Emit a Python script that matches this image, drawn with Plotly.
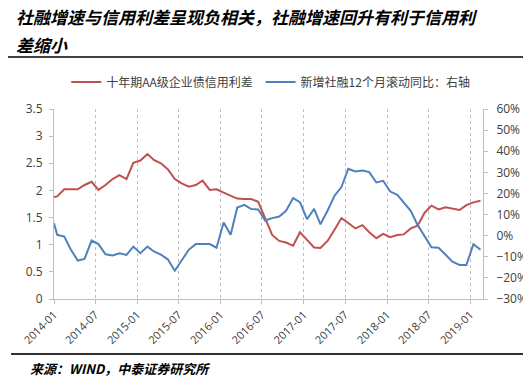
import plotly.graph_objects as go

# ---- data ----
dates = ["2014-01-01"] + [f"{y}-{m:02d}-15" for y in range(2014, 2020) for m in range(1, 13)][:62]

spread_aa10y = [1.88,
    1.89, 2.02, 2.02, 2.02, 2.10, 2.16, 2.01, 2.10, 2.21, 2.28, 2.21, 2.51,
    2.55, 2.67, 2.56, 2.50, 2.39, 2.21, 2.13, 2.07, 2.10, 2.18, 2.01, 2.02,
    1.96, 1.90, 1.85, 1.84, 1.84, 1.79, 1.48, 1.18, 1.07, 1.04, 0.98, 1.23,
    1.09, 0.95, 0.94, 1.07, 1.27, 1.49, 1.40, 1.30, 1.36, 1.23, 1.12, 1.20,
    1.14, 1.18, 1.19, 1.30, 1.35, 1.59, 1.72, 1.65, 1.69, 1.67, 1.64, 1.73,
    1.78, 1.81]

tsf_yoy = [5.9,
    0.4, -0.4, -6.4, -11.8, -11.0, -2.3, -4.0, -8.8, -9.4, -8.3, -9.1, -5.2,
    -8.3, -5.2, -7.5, -9.0, -11.2, -16.6, -11.5, -6.7, -4.0, -3.9, -4.0, -5.7,
    6.2, 0.4, 13.3, 14.6, 12.6, 12.4, 7.2, 8.3, 9.1, 11.8, 17.8, 15.9,
    7.8, 12.7, 5.4, 11.8, 18.8, 23.0, 31.7, 30.4, 30.9, 30.1, 25.2, 26.0,
    20.9, 19.3, 15.7, 11.8, 5.1, -0.1, -5.5, -5.7, -9.1, -12.3, -13.9, -13.9,
    -4.0, -6.7]

name_red = "十年期AA级企业债信用利差"
name_blue = "新增社融12个月滚动同比：右轴"
title_line1 = "社融增速与信用利差呈现负相关，社融增速回升有利于信用利"
title_line2 = "差缩小"
source_text = "来源：WIND，中泰证券研究所"

RED = "#C0504D"
BLUE = "#4F81BD"
GRAY = "#BFBFBF"
TXT = "#404040"
CJK = "Noto Sans CJK SC"

fig = go.Figure()
fig.add_trace(go.Scatter(x=dates, y=spread_aa10y, name=name_red, mode="lines",
                         line=dict(color=RED, width=2), legend="legend"))
fig.add_trace(go.Scatter(x=dates, y=tsf_yoy, name=name_blue, mode="lines", yaxis="y2",
                         line=dict(color=BLUE, width=2), legend="legend2"))

legend_common = dict(orientation="h", y=1.142, xanchor="left", yanchor="middle",
                     font=dict(family=CJK, size=12, color=TXT), itemwidth=30,
                     bgcolor="rgba(0,0,0,0)")

# page body has an 8px margin: compensate so the plot lands at the reference position
fig.update_layout(
    width=531, height=386,
    margin=dict(l=45, r=52, t=101, b=95),
    paper_bgcolor="white", plot_bgcolor="white",
    font=dict(family="Open Sans, " + CJK, size=11, color=TXT),
    showlegend=True,
    legend=dict(x=0.0285, **legend_common),
    legend2=dict(x=0.4816, **legend_common),
    xaxis=dict(
        type="date", range=["2014-01-01", "2019-02-26"],
        tick0="2014-01-01", dtick="M6", tickformat="%Y-%m", tickangle=-45,
        showgrid=True, gridcolor=GRAY, griddash="dot", gridwidth=1,
        showline=True, linecolor=GRAY, linewidth=1,
        ticks="outside", ticklen=4, tickcolor=GRAY,
        tickfont=dict(size=11, color=TXT), zeroline=False,
    ),
    yaxis=dict(
        range=[0, 3.5], dtick=0.5, showgrid=False, zeroline=False,
        showline=True, linecolor=GRAY, linewidth=1,
        ticks="outside", ticklen=4, tickcolor=GRAY, ticklabelstandoff=4,
        tickfont=dict(size=12, color=TXT),
    ),
    yaxis2=dict(
        range=[-30, 60], dtick=10, ticksuffix="%", overlaying="y", side="right",
        showgrid=False, zeroline=False,
        showline=True, linecolor=GRAY, linewidth=1,
        ticks="outside", ticklen=4, tickcolor=GRAY, ticklabelstandoff=6,
        tickfont=dict(size=12, color=TXT),
    ),
)

title_font = dict(family=CJK, size=17, color="black", weight="bold", style="italic")
fig.add_annotation(text=title_line1, xref="paper", yref="paper", x=-0.093, y=1.489,
                   xanchor="left", yanchor="middle", showarrow=False, align="left",
                   font=title_font)
fig.add_annotation(text=title_line2, xref="paper", yref="paper", x=-0.093, y=1.342,
                   xanchor="left", yanchor="middle", showarrow=False, align="left",
                   font=title_font)
fig.add_annotation(text=source_text, xref="paper", yref="paper", x=-0.06, y=-0.364,
                   xanchor="left", yanchor="middle", showarrow=False, align="left",
                   font=dict(family=CJK, size=13, color="black", weight="bold", style="italic"))

# decorative separator rules
fig.add_shape(type="line", xref="paper", yref="paper", x0=-0.125, x1=1.11, y0=1.274, y1=1.274,
              line=dict(color="black", width=1.5))
fig.add_shape(type="line", xref="paper", yref="paper", x0=-0.1, x1=1.11, y0=-0.289, y1=-0.289,
              line=dict(color="#303030", width=2))

fig.write_html("out.html")
